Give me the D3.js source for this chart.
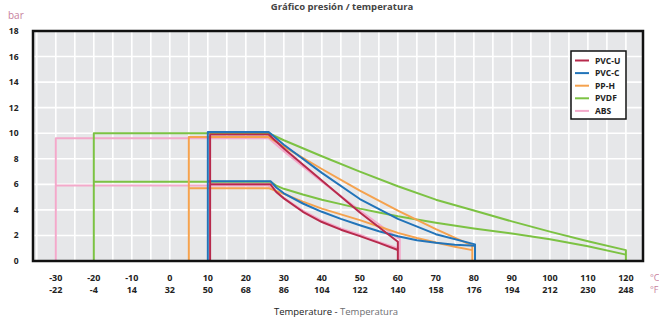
<!doctype html>
<html>
<head>
<meta charset="utf-8">
<script src="https://d3js.org/d3.v7.min.js"></script>
<style>
  body { margin: 0; background: #fff; }
  text { font-family: "Open Sans", "Noto Sans", sans-serif; }
</style>
</head>
<body>
<div id="chart"></div>
<script>
// tick labels
var tempC = [-30, -20, -10, 0, 10, 20, 30, 40, 50, 60, 70, 80, 90, 100, 110, 120];
var tempF = [-22, -4, 14, 32, 50, 68, 86, 104, 122, 140, 158, 176, 194, 212, 230, 248];
var barTicks = [0, 2, 4, 6, 8, 10, 12, 14, 16, 18];

var materials = ["PVC-U", "PVC-C", "PP-H", "PVDF", "ABS"];
var colors = ["#b72a4c", "#2274b9", "#f5a24e", "#7cc243", "#f3a9ca"];

// [temp °C, bar]: high = 10 bar class, low = 6 bar class
var absHigh = [[-30,0],[-30,9.6],[26,9.6],[30,8.6],[40,6.2],[50,3.95],[60,1.8],[60.5,1.8],[60.5,0]];
var absLow = [[-30,5.9],[26,5.9],[28,5.4],[30,4.95],[35,3.95],[40,3.15],[45,2.55],[50,2.05],[55,1.5],[60.5,0.95]];
var pvdfHigh = [[-20,0],[-20,10],[26,10],[30,9.45],[40,8.2],[50,7.0],[60,5.85],[70,4.8],[80,3.95],[90,3.1],[100,2.3],[110,1.55],[120,0.85],[120,0]];
var pvdfLow = [[-20,6.2],[26.5,6.2],[28,5.9],[30,5.65],[35,5.2],[40,4.8],[45,4.45],[50,4.1],[55,3.8],[60,3.5],[70,3.0],[80,2.55],[90,2.15],[100,1.7],[110,1.15],[120,0.5]];
var pphHigh = [[5,0],[5,9.7],[26,9.7],[30,8.95],[40,7.2],[50,5.5],[60,3.95],[70,2.5],[79.6,1.2],[79.6,0]];
var pphLow = [[5,5.7],[26,5.7],[30,5.25],[35,4.65],[40,4.1],[45,3.65],[50,3.2],[55,2.7],[60,2.2],[65,1.8],[70,1.45],[75,1.12],[79.6,0.85]];
var pvccHigh = [[10,0],[10,10.1],[26,10.1],[30,9.1],[40,6.9],[50,4.85],[60,3.3],[70,2.1],[80.3,1.3],[80.3,0]];
var pvccLow = [[10,6.25],[26.5,6.25],[28,5.75],[30,5.3],[35,4.5],[40,3.85],[45,3.3],[50,2.8],[55,2.33],[60,1.93],[65,1.62],[70,1.42],[75,1.28],[80.3,1.2]];
var pvcuHigh = [[10.6,0],[10.6,9.9],[26,9.9],[30,8.8],[40,6.3],[50,3.8],[60,1.5],[60,0]];
var pvcuLow = [[10.6,6.0],[26.5,6.0],[28,5.4],[30,4.9],[35,3.85],[40,3.05],[45,2.45],[50,1.95],[55,1.42],[60,0.86]];

// drawing order, bottom first
var series = [
  {c: colors[4], lines: [absHigh, absLow]},
  {c: colors[3], lines: [pvdfHigh, pvdfLow]},
  {c: colors[2], lines: [pphHigh, pphLow]},
  {c: colors[1], lines: [pvccHigh, pvccLow]},
  {c: colors[0], lines: [pvcuHigh, pvcuLow]}
];

var W = 659, H = 318;
var pLeft = 33, pRight = 643, pTop = 31, pBottom = 261;

var svg = d3.select("#chart").append("svg").attr("width", W).attr("height", H);

var x = d3.scaleLinear().domain([-36, 124.5]).range([pLeft, pRight]);
var y = d3.scaleLinear().domain([0, 18]).range([pBottom, pTop]);

svg.append("rect").attr("x", pLeft).attr("y", pTop)
  .attr("width", pRight - pLeft).attr("height", pBottom - pTop).attr("fill", "#e6e7e9");

// grid
svg.append("g").selectAll("line").data(d3.range(-35, 124, 5)).join("line")
  .attr("x1", d => x(d)).attr("x2", d => x(d)).attr("y1", pTop).attr("y2", pBottom)
  .attr("stroke", "#fff").attr("stroke-width", 1.6);
svg.append("g").selectAll("line").data(barTicks.slice(1, -1)).join("line")
  .attr("x1", pLeft).attr("x2", pRight).attr("y1", d => y(d)).attr("y2", d => y(d))
  .attr("stroke", "#fff").attr("stroke-width", 1.6);

// curves
var line = d3.line().x(d => x(d[0])).y(d => y(d[1]));
series.forEach(function(s) {
  s.lines.forEach(function(l) {
    svg.append("path").attr("d", line(l)).attr("fill", "none")
      .attr("stroke", s.c).attr("stroke-width", 2).attr("stroke-linejoin", "round");
  });
});

// frame
svg.append("rect").attr("x", pLeft).attr("y", pTop)
  .attr("width", pRight - pLeft).attr("height", pBottom - pTop)
  .attr("fill", "none").attr("stroke", "#111").attr("stroke-width", 2.5);

// y labels
svg.append("g").selectAll("text").data(barTicks).join("text")
  .attr("x", 18.5).attr("y", d => y(d) + 3)
  .attr("text-anchor", "end").attr("font-size", 8.5).attr("font-weight", 700).attr("fill", "#222")
  .text(d => d);
svg.append("text").attr("x", 8).attr("y", 19).attr("font-size", 10).attr("fill", "#c77f9d").text("bar");

// x labels
svg.append("g").selectAll("text").data(tempC).join("text")
  .attr("x", d => x(d)).attr("y", 281)
  .attr("text-anchor", "middle").attr("font-size", 9).attr("font-weight", 700).attr("fill", "#222")
  .text(d => d);
svg.append("g").selectAll("text").data(tempF).join("text")
  .attr("x", (d, i) => x(tempC[i])).attr("y", 292.5)
  .attr("text-anchor", "middle").attr("font-size", 9).attr("font-weight", 700).attr("fill", "#222")
  .text(d => d);
svg.append("text").attr("x", 650).attr("y", 281).attr("font-size", 9).attr("fill", "#c77f9d").text("°C");
svg.append("text").attr("x", 650).attr("y", 292.5).attr("font-size", 9).attr("fill", "#c77f9d").text("°F");

var xt = svg.append("text").attr("x", 336).attr("y", 315).attr("text-anchor", "middle").attr("font-size", 9.5);
xt.append("tspan").attr("fill", "#222").text("Temperature - ");
xt.append("tspan").attr("fill", "#6d6e71").text("Temperatura");

svg.append("text").attr("x", 342).attr("y", 9.5).attr("text-anchor", "middle")
  .attr("font-size", 9.5).attr("font-weight", 700).attr("fill", "#444")
  .text("Gráfico presión / temperatura");

// legend
var lg = svg.append("g");
lg.append("rect").attr("x", 571).attr("y", 51).attr("width", 55).attr("height", 68)
  .attr("fill", "#fff").attr("stroke", "#111").attr("stroke-width", 1.5);
materials.forEach(function(m, i) {
  var yy = 60.5 + i * 12.6;
  lg.append("line").attr("x1", 575).attr("x2", 589).attr("y1", yy).attr("y2", yy)
    .attr("stroke", colors[i]).attr("stroke-width", 2);
  lg.append("text").attr("x", 595).attr("y", yy + 3).attr("font-size", 8.5)
    .attr("font-weight", 700).attr("fill", "#222").text(m);
});
</script>
</body>
</html>
